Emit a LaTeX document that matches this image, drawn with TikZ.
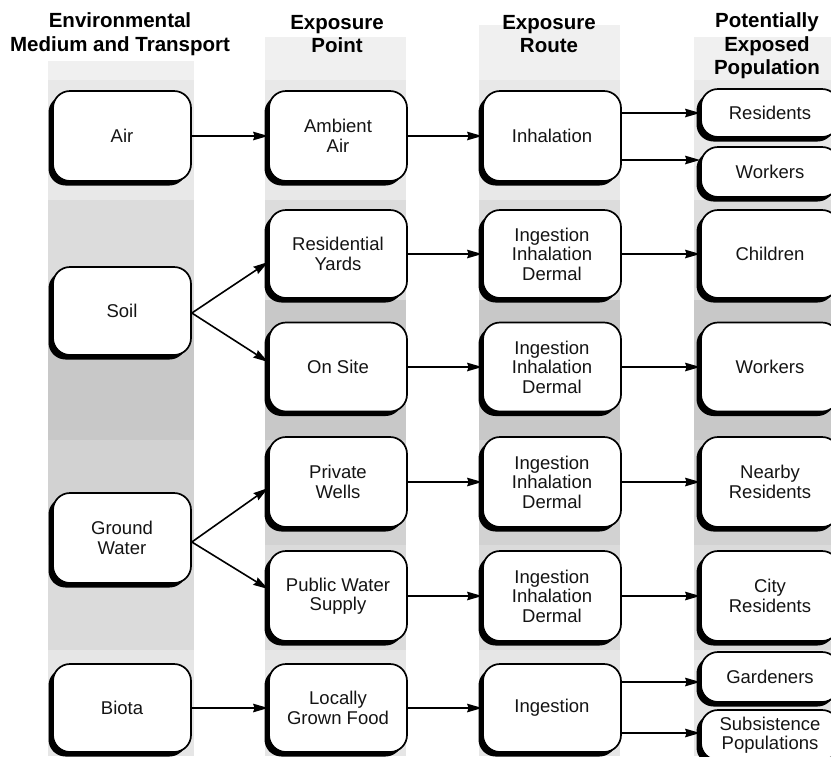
\documentclass[tikz,border=0pt]{standalone}
\usepackage{fontspec}
\usetikzlibrary{arrows.meta,shadows,calc}
\newfontfamily\lsans{Liberation Sans}
\definecolor{gA}{HTML}{F0F0F0}
\definecolor{gB}{HTML}{E8E8E8}
\definecolor{gC}{HTML}{DCDCDC}
\definecolor{gD}{HTML}{C8C8C8}
\definecolor{gE}{HTML}{D2D2D2}
\definecolor{gF}{HTML}{DBDBDB}
\definecolor{gG}{HTML}{E6E6E6}
\definecolor{txt}{HTML}{141414}
\newcommand\bandcol[3]{%
  \fill[gA] (#1,#3) rectangle (#2,80);
  \fill[gB] (#1,80) rectangle (#2,200);
  \fill[gC] (#1,200) rectangle (#2,300);
  \fill[gD] (#1,300) rectangle (#2,440);
  \fill[gE] (#1,440) rectangle (#2,545);
  \fill[gF] (#1,545) rectangle (#2,650);
  \fill[gG] (#1,650) rectangle (#2,756);
}
\tikzset{
  box/.style={draw=black, line width=1.7pt, fill=white, rounded corners=17pt,
    minimum width=138pt, inner sep=0pt, align=center, text=txt,
    font={\lsans\fontsize{18.5}{19.5}\selectfont},
    drop shadow={shadow xshift=-4.5pt, shadow yshift=-4.5pt, fill=black, opacity=1}},
  arr/.style={line width=1.6pt, -{Stealth[length=15pt,width=8.5pt,inset=1.5pt]}},
  head/.style={align=center, text=black, font={\lsans\bfseries\fontsize{20.5}{23.5}\selectfont}}
}
\begin{document}
\begin{tikzpicture}[x=1pt,y=-1pt]
\useasboundingbox (0,0) rectangle (831,756);
\clip (0,0) rectangle (831,756);
\fill[white] (0,0) rectangle (831,756);
% column bands
\bandcol{48}{194}{61}
\bandcol{265}{406}{37}
\bandcol{479}{620}{25}
\bandcol{694}{840}{37}
% headings
\node[head] (h1) at (120,34) {Environmental\\Medium and Transport};
\node[head] (h2) at (337,34) {Exposure\\Point};
\node[head] (h3) at (549,34) {Exposure\\Route};
\node[head] (h4) at (767,46) {Potentially\\Exposed\\Population};
% column 1
\node[box, minimum height=90pt] (air)   at (122,136) {Air};
\node[box, minimum height=88pt] (soil)  at (122,311) {Soil};
\node[box, minimum height=90pt] (gw)    at (122,538) {Ground\\Water};
\node[box, minimum height=88pt] (biota) at (122,708) {Biota};
% column 2
\node[box, minimum height=90pt] (amb) at (338,136) {Ambient\\Air};
\node[box, minimum height=88pt] (ry)  at (338,254) {Residential\\Yards};
\node[box, minimum height=89pt] (os)  at (338,367) {On Site};
\node[box, minimum height=90pt] (pw)  at (338,482) {Private\\Wells};
\node[box, minimum height=90pt] (pws) at (338,596) {Public Water\\Supply};
\node[box, minimum height=88pt] (lgf) at (338,708) {Locally\\Grown Food};
% column 3
\node[box, minimum height=90pt] (inh) at (552,136) {Inhalation};
\node[box, minimum height=88pt] (r1)  at (552,254) {Ingestion\\Inhalation\\Dermal};
\node[box, minimum height=89pt] (r2)  at (552,367) {Ingestion\\Inhalation\\Dermal};
\node[box, minimum height=90pt] (r3)  at (552,482) {Ingestion\\Inhalation\\Dermal};
\node[box, minimum height=90pt] (r4)  at (552,596) {Ingestion\\Inhalation\\Dermal};
\node[box, minimum height=88pt] (ing) at (552,708) {Ingestion};
% column 4
\node[box, minimum height=48pt] (res) at (770,113) {Residents};
\node[box, minimum height=50pt] (wk1) at (770,172) {Workers};
\node[box, minimum height=88pt] (ch)  at (770,254) {Children};
\node[box, minimum height=89pt] (wk2) at (770,367) {Workers};
\node[box, minimum height=90pt] (nr)  at (770,482) {Nearby\\Residents};
\node[box, minimum height=90pt] (cr)  at (770,596) {City\\Residents};
\node[box, minimum height=50pt] (gd)  at (770,677) {Gardeners};
\node[box, minimum height=50pt] (sp)  at (770,735) {Subsistence\\Populations};
% connectors col1 -> col2
\draw[arr] (air.east) -- (amb.west);
\draw[arr] ([yshift=-2pt]soil.east) -- ([yshift=-8pt]ry.west);
\draw[arr] ([yshift=-2pt]soil.east) -- ([yshift=5pt]os.west);
\draw[arr] ([yshift=-4pt]gw.east) -- ([yshift=-6pt]pw.west);
\draw[arr] ([yshift=-4pt]gw.east) -- ([yshift=7pt]pws.west);
\draw[arr] (biota.east) -- (lgf.west);
% col2 -> col3
\draw[arr] (amb.east) -- (inh.west);
\draw[arr] (ry.east) -- (r1.west);
\draw[arr] (os.east) -- (r2.west);
\draw[arr] (pw.east) -- (r3.west);
\draw[arr] (pws.east) -- (r4.west);
\draw[arr] (lgf.east) -- (ing.west);
% col3 -> col4
\coordinate (i1) at ([yshift=23pt]inh.east);
\coordinate (i2) at ([yshift=-24pt]inh.east);
\draw[arr] (i1) -- (i1 -| res.west);
\draw[arr] (i2) -- (i2 -| wk1.west);
\draw[arr] (r1.east) -- (ch.west);
\draw[arr] (r2.east) -- (wk2.west);
\draw[arr] (r3.east) -- (nr.west);
\draw[arr] (r4.east) -- (cr.west);
\coordinate (g1) at ([yshift=26pt]ing.east);
\coordinate (g2) at ([yshift=-25pt]ing.east);
\draw[arr] (g1) -- (g1 -| gd.west);
\draw[arr] (g2) -- (g2 -| sp.west);
\end{tikzpicture}
\end{document}
